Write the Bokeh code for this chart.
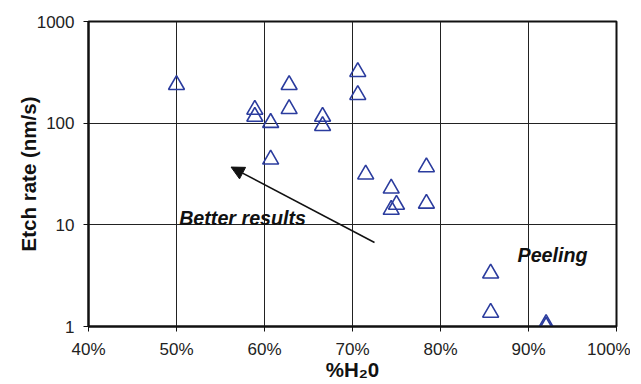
from bokeh.plotting import figure
from bokeh.models import (FixedTicker, NumeralTickFormatter, Arrow, NormalHead,
                          Label, ColumnDataSource)
from bokeh.embed import file_html
from bokeh.resources import INLINE

# data: % H2O vs etch rate (nm/s)
h2o_pct = [50.0, 58.9, 58.9, 60.7, 60.7, 62.8, 62.8, 66.6, 66.6, 70.6, 70.6,
           71.5, 74.4, 75.0, 74.4, 78.4, 78.4, 85.7, 85.7, 92.0, 92.0]
etch_rate = [238, 136, 116, 101, 44, 238, 138, 116, 94, 320, 190,
             31.4, 22.8, 15.8, 14.1, 37, 16.2, 3.33, 1.37, 1.06, 1.0]

x_ticks = [40, 50, 60, 70, 80, 90, 100]
x_tick_labels = ["40%", "50%", "60%", "70%", "80%", "90%", "100%"]
y_ticks = [1, 10, 100, 1000]

# annotation positions (data units)
arrow_start = (72.5, 6.7)
arrow_end = (56.2, 37.0)
better_pos = (50.3, 11.8)
peeling_pos = (88.75, 5.1)

FONT = "Liberation Sans"

p = figure(frame_width=528, frame_height=305, output_backend="svg",
           toolbar_location=None,
           y_axis_type="log", x_range=(40, 100), y_range=(1, 1000),
           min_border_left=88, min_border_right=14, min_border_top=21,
           min_border_bottom=40)

p.outline_line_color = "#111111"
p.outline_line_width = 2

# grid
p.xgrid.ticker = FixedTicker(ticks=x_ticks)
p.ygrid.ticker = FixedTicker(ticks=y_ticks)
for g in (p.xgrid, p.ygrid):
    g.grid_line_color = "#222222"
    g.grid_line_width = 1
    g.grid_line_alpha = 1.0

# x axis
xa = p.xaxis[0]
xa.ticker = FixedTicker(ticks=x_ticks)
xa.major_label_overrides = {t: l for t, l in zip(x_ticks, x_tick_labels)}
xa.axis_label = "%H\u20820"

# y axis
ya = p.yaxis[0]
ya.ticker = FixedTicker(ticks=y_ticks)
ya.formatter = NumeralTickFormatter(format="0")
ya.axis_label = "Etch rate (nm/s)"

for ax in (xa, ya):
    ax.axis_line_color = "#111111"
    ax.axis_line_width = 2
    ax.major_tick_line_color = "#111111"
    ax.major_tick_line_width = 1
    ax.major_tick_out = 5
    ax.major_tick_in = 0
    ax.minor_tick_line_color = None
    ax.major_label_text_font = FONT
    ax.major_label_text_font_size = "17px"
    ax.major_label_text_color = "#222222"
    ax.axis_label_text_font = FONT
    ax.axis_label_text_font_size = "20.5px"
    ax.axis_label_text_font_style = "bold"
    ax.axis_label_text_color = "#111111"

xa.major_label_standoff = 8
xa.axis_label_standoff = -4
ya.major_label_standoff = 9
ya.axis_label_standoff = -6

src = ColumnDataSource(data=dict(x=h2o_pct, y=etch_rate))
p.scatter("x", "y", source=src, marker="triangle", size=16,
          fill_color=None, line_color="#2B3C9E", line_width=1.6)

p.add_layout(Arrow(end=NormalHead(size=13, fill_color="#111111",
                                  line_color="#111111"),
                   x_start=arrow_start[0], y_start=arrow_start[1],
                   x_end=arrow_end[0], y_end=arrow_end[1],
                   line_color="#111111", line_width=1.5))

p.add_layout(Label(x=better_pos[0], y=better_pos[1], text="Better results",
                   text_font=FONT, text_font_size="19.7px",
                   text_font_style="bold italic", text_color="#111111",
                   text_baseline="alphabetic"))
p.add_layout(Label(x=peeling_pos[0], y=peeling_pos[1], text="Peeling",
                   text_font=FONT, text_font_size="19.7px",
                   text_font_style="bold italic", text_color="#111111",
                   text_baseline="alphabetic"))

open("out.html", "w").write(file_html(p, INLINE))
